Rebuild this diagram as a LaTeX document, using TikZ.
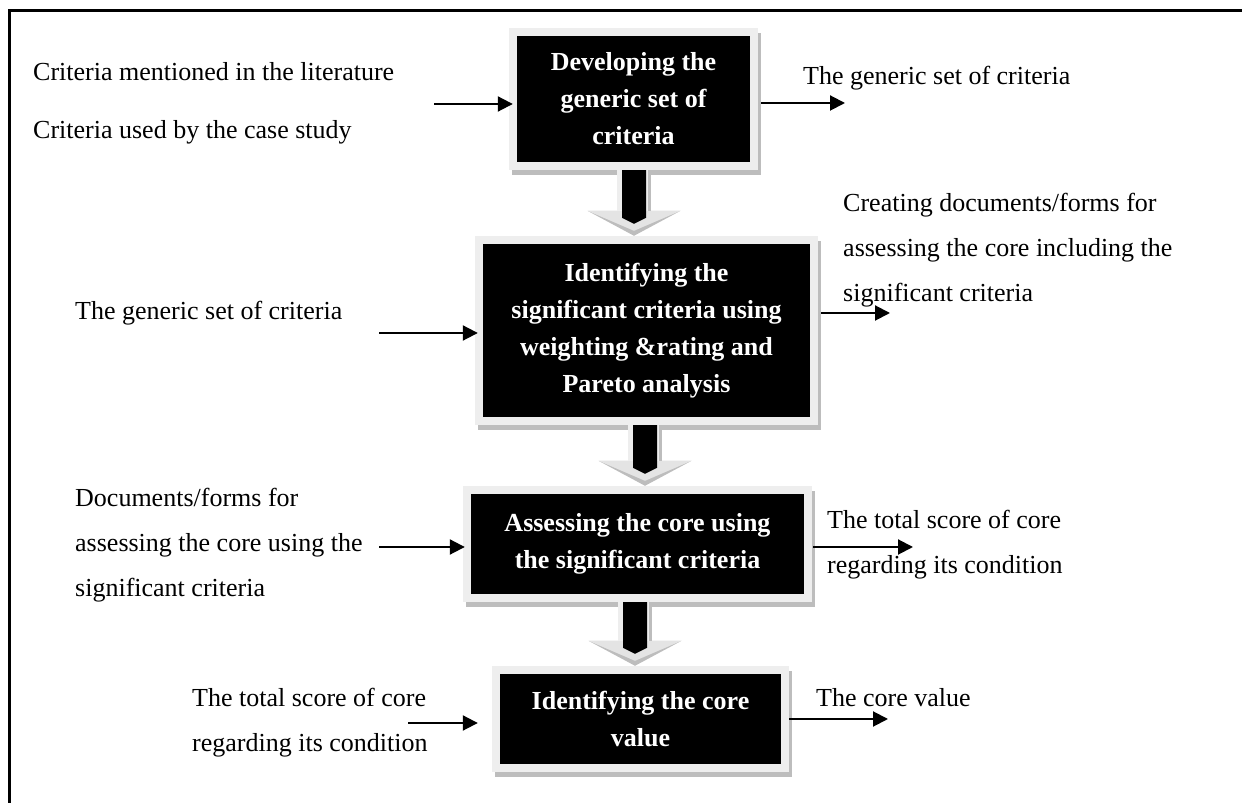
\documentclass[tikz,border=0pt]{standalone}
\usepackage{fontspec}
\setmainfont{Liberation Serif}
\usetikzlibrary{arrows.meta,calc,backgrounds}

\definecolor{framegray}{HTML}{EEEEEE}
\definecolor{shadegray}{HTML}{BDBDBD}
\definecolor{headlight}{HTML}{E4E4E4}

% light bevel frame with a drop shadow behind a process box
\newcommand\stepframe[1]{%
  \fill[shadegray] ($(#1.south west)+(-5pt,-13pt)$) rectangle ($(#1.north east)+(11pt,3pt)$);
  \fill[framegray] ($(#1.south west)+(-8pt,-8pt)$) rectangle ($(#1.north east)+(8pt,8pt)$);}

% thick block arrow between two stacked process boxes, centred at x = #3
\newcommand\stepblockarrow[3]{%
  \path let \p1=(#1.south), \p2=(#2.north) in
    coordinate (ba-top) at (#3pt,\y1-8pt)
    coordinate (ba-tip) at (#3pt,\y2+8pt);
  \fill[shadegray] ($(ba-tip)+(-46.5pt,25pt)$) -- ($(ba-tip)+(46.5pt,25pt)$) -- (ba-tip) -- cycle;
  \fill[headlight] ($(ba-tip)+(-46.5pt,25pt)$) -- ($(ba-tip)+(46.5pt,25pt)$) -- ($(ba-tip)+(0pt,5pt)$) -- cycle;
  \fill[framegray] ($(ba-top)+(-17pt,0pt)$) rectangle ($(ba-tip)+(17pt,25pt)$);
  \fill[shadegray] ($(ba-top)+(14pt,0pt)$) rectangle ($(ba-tip)+(17pt,25pt)$);
  \fill[black] ($(ba-top)+(-12pt,0pt)$) -- ($(ba-top)+(12pt,0pt)$) -- ($(ba-tip)+(12pt,18pt)$)
    -- ($(ba-tip)+(0pt,12pt)$) -- ($(ba-tip)+(-12pt,18pt)$) -- cycle;}

\begin{document}
\begin{tikzpicture}[x=1pt,y=1pt,
  procbox/.style={fill=black,text=white,font=\fontsize{26}{37}\selectfont\bfseries,
    align=center,inner sep=0pt},
  note/.style={font=\fontsize{26}{45}\selectfont,align=left,anchor=west,inner sep=0pt},
  flow/.style={-{Triangle[length=15pt,width=15pt]},line width=2pt},
]
\useasboundingbox (0,0) rectangle (1242,803);

% outer frame (top and left rules)
\draw[line width=3pt] (1242,792) -- (9,792) -- (9,0);

% process boxes
\node[procbox,minimum width=233pt,minimum height=126pt] (b1) at (633.5,704)
  {Developing the\\generic set of\\criteria};
\node[procbox,minimum width=327pt,minimum height=173pt] (b2) at (646.5,472.5)
  {Identifying the\\significant criteria using\\weighting \&rating and\\Pareto analysis};
\node[procbox,minimum width=333pt,minimum height=100pt] (b3) at (637.5,259)
  {Assessing the core using\\the significant criteria};
\node[procbox,minimum width=281pt,minimum height=90pt] (b4) at (640.5,84)
  {Identifying the core\\value};

\begin{scope}[on background layer]
  \stepframe{b1}\stepframe{b2}\stepframe{b3}\stepframe{b4}
\end{scope}

% block arrows between the steps
\stepblockarrow{b1}{b2}{634}
\stepblockarrow{b2}{b3}{645}
\stepblockarrow{b3}{b4}{635}

% inputs and outputs
\node[note] (in1a) at (33,731) {Criteria mentioned in the literature};
\node[note] (in1b) at (33,671) {Criteria used by the case study};
\node[note] (out1) at (803,725) {The generic set of criteria};
\node[note] (in2) at (75,490) {The generic set of criteria};
\node[note] (out2) at (843,553)
  {Creating documents/forms for\\assessing the core including the\\significant criteria};
\node[note] (in3) at (75,258)
  {Documents/forms for\\assessing the core using the\\significant criteria};
\node[note] (out3) at (827,258.5)
  {The total score of core\\regarding its condition};
\node[note] (in4) at (192,80.5) {The total score of core\\regarding its condition};
\node[note] (out4) at (816,105) {The core value};

% connectors
\coordinate (c1) at (434,699);
\coordinate (e1) at (845,700);
\coordinate (c2) at (379,470);
\coordinate (e2) at (890,490);
\coordinate (c3) at (379,256);
\coordinate (e3) at (913,256);
\coordinate (c4) at (408,80);
\coordinate (e4) at (888,84);

\draw[flow,shorten >=4pt] (c1) -- (c1 -| b1.west);
\draw[flow,shorten <=11pt] (b1.east |- e1) -- (e1);
\draw[flow,shorten >=5pt] (c2) -- (c2 -| b2.west);
\draw[flow,shorten <=11pt] (b2.east |- e2) -- (e2);
\draw[flow,shorten >=6pt] (c3) -- (c3 -| b3.west);
\draw[flow,shorten <=9pt] (b3.east |- e3) -- (e3);
\draw[flow,shorten >=22pt] (c4) -- (c4 -| b4.west);
\draw[flow,shorten <=8pt] (b4.east |- e4) -- (e4);
\end{tikzpicture}
\end{document}
